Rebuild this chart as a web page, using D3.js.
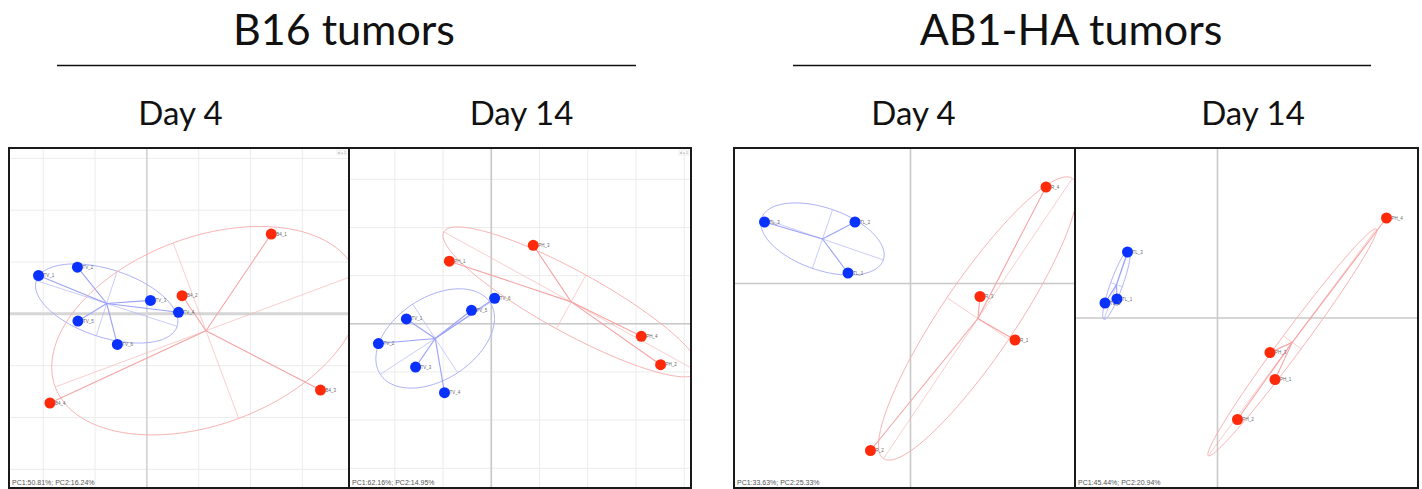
<!DOCTYPE html>
<html><head><meta charset="utf-8">
<script src="https://cdn.jsdelivr.net/npm/d3@7"></script>
<style>body{margin:0;background:#fff}svg{display:block}</style>
</head><body>
<svg id="chart" width="1422" height="489"></svg>
<script>
// ---------- data ----------
const groupTitles = ["B16 tumors", "AB1-HA tumors"];
const dayLabels = ["Day 4", "Day 14", "Day 4", "Day 14"];
const varianceLabels = ["PC1:50.81%; PC2:16.24%", "PC1:62.16%; PC2:14.95%",
                        "PC1:33.63%; PC2:25.33%", "PC1:45.44%; PC2:20.94%"];
const gridScaleLabels = ["d = 1", "d = 1", "", ""];

// PCA scores (PC1, PC2) per panel, control (blue) and treated (red)
const b16Day4Ctrl  = [[-2.09, 0.74], [-1.34, 0.90], [0.07, 0.26], [0.61, 0.03], [-1.33, -0.14], [-0.57, -0.59]];
const b16Day4Trt   = [[2.40, 1.54], [0.68, 0.35], [3.35, -1.47], [-1.87, -1.72]];
const b16Day14Ctrl = [[-1.76, 0.10], [-2.34, -0.41], [-1.57, -0.90], [-0.97, -1.43], [-0.41, 0.28], [0.07, 0.53]];
const b16Day14Trt  = [[-0.87, 1.30], [0.87, 1.63], [3.11, -0.26], [3.51, -0.85]];
const ab1Day4Ctrl  = [[-2.92, 1.23], [-1.11, 1.23], [-1.25, 0.21]];
const ab1Day4Trt   = [[2.71, 1.93], [1.39, -0.26], [2.09, -1.13], [-0.80, -3.34]];
const ab1Day14Ctrl = [[-1.80, 1.32], [-2.01, 0.38], [-2.25, 0.30]];
const ab1Day14Trt  = [[3.38, 2.00], [1.05, -0.69], [1.15, -1.23], [0.40, -2.03]];

const b16Day4CtrlNames  = ["TV_1", "TV_2", "TV_3", "TV_4", "TV_5", "TV_6"];
const b16Day4TrtNames   = ["B4_1", "B4_2", "B4_3", "B4_4"];
const b16Day14CtrlNames = ["TV_1", "TV_2", "TV_3", "TV_4", "TV_5", "TV_6"];
const b16Day14TrtNames  = ["PH_1", "PH_3", "PH_4", "PH_2"];
const ab1Day4CtrlNames  = ["TL_3", "TL_2", "TL_1"];
const ab1Day4TrtNames   = ["R_4", "R_3", "R_1", "R_2"];
const ab1Day14CtrlNames = ["TL_3", "TL_1", "TL_2"];
const ab1Day14TrtNames  = ["PH_4", "PH_3", "PH_1", "PH_2"];

// axis domains (PC units)
const xDomains = [[-2.66, 3.90], [-2.95, 4.14], [-3.53, 3.29], [-2.85, 4.01]];
const yDomains = [[-3.36, 3.20], [-3.41, 3.65], [-4.09, 2.71], [-3.40, 3.40]];
const showGrid = [true, true, false, false];

// ---------- layout ----------
const svg = d3.select("#chart");
const panelBoxes = [[9, 349], [349, 691], [734, 1075], [1075, 1418]];
const panelTop = 148, panelBottom = 488;
const ctrlSets = [b16Day4Ctrl, b16Day14Ctrl, ab1Day4Ctrl, ab1Day14Ctrl];
const trtSets = [b16Day4Trt, b16Day14Trt, ab1Day4Trt, ab1Day14Trt];
const ctrlNames = [b16Day4CtrlNames, b16Day14CtrlNames, ab1Day4CtrlNames, ab1Day14CtrlNames];
const trtNames = [b16Day4TrtNames, b16Day14TrtNames, ab1Day4TrtNames, ab1Day14TrtNames];
const dayCenters = [180.5, 521.5, 913.5, 1253];
const titleCenters = [344, 1071];
const ruleExtents = [[57, 636], [793, 1371]];

const font = "Lato, 'Open Sans', sans-serif";

// titles
svg.selectAll("text.title").data(groupTitles).join("text")
  .attr("class", "title")
  .attr("x", (d, i) => titleCenters[i]).attr("y", 45)
  .attr("text-anchor", "middle")
  .style("font-family", font).style("font-size", "43px").style("fill", "#111")
  .text(d => d);
svg.selectAll("line.rule").data(ruleExtents).join("line")
  .attr("x1", d => d[0]).attr("x2", d => d[1]).attr("y1", 65.5).attr("y2", 65.5)
  .attr("stroke", "#111").attr("stroke-width", 1.5);
svg.selectAll("text.day").data(dayLabels).join("text")
  .attr("class", "day")
  .attr("x", (d, i) => dayCenters[i]).attr("y", 125)
  .attr("text-anchor", "middle")
  .style("font-family", font).style("font-size", "33px").style("fill", "#111")
  .text(d => d);

function stats(pts) {
  const n = pts.length;
  const mx = d3.mean(pts, p => p[0]), my = d3.mean(pts, p => p[1]);
  let sxx = 0, syy = 0, sxy = 0;
  pts.forEach(p => { const dx = p[0] - mx, dy = p[1] - my; sxx += dx * dx; syy += dy * dy; sxy += dx * dy; });
  sxx /= n; syy /= n; sxy /= n;
  const tr = sxx + syy, det = sxx * syy - sxy * sxy;
  const disc = Math.sqrt(Math.max(0, tr * tr / 4 - det));
  const l1 = tr / 2 + disc, l2 = Math.max(0, tr / 2 - disc);
  let ang;
  if (Math.abs(sxy) > 1e-12) ang = Math.atan2(l1 - sxx, sxy);
  else ang = sxx >= syy ? 0 : Math.PI / 2;
  return { mx, my, a: 1.5 * Math.sqrt(l1), b: 1.5 * Math.sqrt(l2), ang };
}

panelBoxes.forEach((box, i) => {
  const x = d3.scaleLinear().domain(xDomains[i]).range([box[0], box[1]]);
  const y = d3.scaleLinear().domain(yDomains[i]).range([panelBottom, panelTop]);
  const g = svg.append("g");
  const clipId = "clip" + i;
  svg.append("clipPath").attr("id", clipId).append("rect")
    .attr("x", box[0]).attr("y", panelTop).attr("width", box[1] - box[0]).attr("height", panelBottom - panelTop);
  const inner = g.append("g").attr("clip-path", `url(#${clipId})`);
  inner.append("rect").attr("x", box[0]).attr("y", panelTop)
    .attr("width", box[1] - box[0]).attr("height", panelBottom - panelTop).attr("fill", "#fff");

  if (showGrid[i]) {
    const xt = d3.range(Math.ceil(xDomains[i][0]), Math.floor(xDomains[i][1]) + 1);
    const yt = d3.range(Math.ceil(yDomains[i][0]), Math.floor(yDomains[i][1]) + 1);
    inner.selectAll("line.gx").data(xt).join("line")
      .attr("x1", d => x(d)).attr("x2", d => x(d)).attr("y1", panelTop).attr("y2", panelBottom)
      .attr("stroke", "#ececec").attr("stroke-width", 1);
    inner.selectAll("line.gy").data(yt).join("line")
      .attr("y1", d => y(d)).attr("y2", d => y(d)).attr("x1", box[0]).attr("x2", box[1])
      .attr("stroke", "#ececec").attr("stroke-width", 1);
  }
  // zero axes
  inner.append("line").attr("x1", x(0)).attr("x2", x(0)).attr("y1", panelTop).attr("y2", panelBottom)
    .attr("stroke", "#c8c8c8").attr("stroke-width", i === 0 ? 1.2 : 1.6);
  inner.append("line").attr("y1", y(0)).attr("y2", y(0)).attr("x1", box[0]).attr("x2", box[1])
    .attr("stroke", i === 0 ? "#d6d6d6" : "#c8c8c8").attr("stroke-width", i === 0 ? 3 : 1.6);

  const groups = [
    { pts: ctrlSets[i], names: ctrlNames[i], fill: "#0a32ff", line: "#9ba1f6", ell: "#adb1f7" },
    { pts: trtSets[i], names: trtNames[i], fill: "#ff2a0a", line: "#f6a3a3", ell: "#f8b4b4" }
  ];
  groups.forEach(gr => {
    const s = stats(gr.pts);
    const ca = Math.cos(s.ang), sa = Math.sin(s.ang);
    const ellPts = d3.range(0, 361, 3).map(t => {
      const r = t * Math.PI / 180;
      const ex = s.a * Math.cos(r), ey = s.b * Math.sin(r);
      return [x(s.mx + ex * ca - ey * sa), y(s.my + ex * sa + ey * ca)];
    });
    inner.append("path").attr("d", d3.line()(ellPts)).attr("fill", "none")
      .attr("stroke", gr.ell).attr("stroke-width", 1);
    // ellipse axes
    const axes = [[s.a * ca, s.a * sa], [-s.b * sa, s.b * ca]];
    inner.selectAll(null).data(axes).join("line")
      .attr("x1", d => x(s.mx - d[0])).attr("y1", d => y(s.my - d[1]))
      .attr("x2", d => x(s.mx + d[0])).attr("y2", d => y(s.my + d[1]))
      .attr("stroke", gr.ell).attr("stroke-width", 0.8).attr("opacity", 0.8);
    // stars
    inner.selectAll(null).data(gr.pts).join("line")
      .attr("x1", x(s.mx)).attr("y1", y(s.my))
      .attr("x2", d => x(d[0])).attr("y2", d => y(d[1]))
      .attr("stroke", gr.line).attr("stroke-width", 1.1);
  });
  groups.forEach(gr => {
    inner.selectAll(null).data(gr.pts).join("circle")
      .attr("cx", d => x(d[0])).attr("cy", d => y(d[1])).attr("r", 5.5)
      .attr("fill", gr.fill);
    inner.selectAll(null).data(gr.pts).join("text")
      .attr("x", d => x(d[0]) + 5).attr("y", d => y(d[1]) + 1.5)
      .style("font-family", "'Liberation Sans', Arial, sans-serif").style("font-size", "4.5px").style("fill", "#666")
      .text((d, k) => gr.names[k]);
  });
  // variance text
  inner.append("text").attr("x", box[0] + 3).attr("y", panelBottom - 3)
    .style("font-family", "'Liberation Sans', Arial, sans-serif").style("font-size", "7px").style("fill", "#555")
    .text(varianceLabels[i]);
  if (gridScaleLabels[i]) {
    inner.append("rect").attr("x", box[1] - 12).attr("y", panelTop + 2).attr("width", 10).attr("height", 5)
      .attr("fill", "#fff").attr("stroke", "#ddd").attr("stroke-width", 0.5);
    inner.append("text").attr("x", box[1] - 7).attr("y", panelTop + 6).attr("text-anchor", "middle")
      .style("font-family", "'Liberation Sans', Arial, sans-serif").style("font-size", "3.5px").style("fill", "#888")
      .text(gridScaleLabels[i]);
  }
  // frame
  g.append("rect").attr("x", box[0]).attr("y", panelTop)
    .attr("width", box[1] - box[0]).attr("height", panelBottom - panelTop)
    .attr("fill", "none").attr("stroke", "#1a1a1a").attr("stroke-width", 2);
});
</script>
</body></html>
